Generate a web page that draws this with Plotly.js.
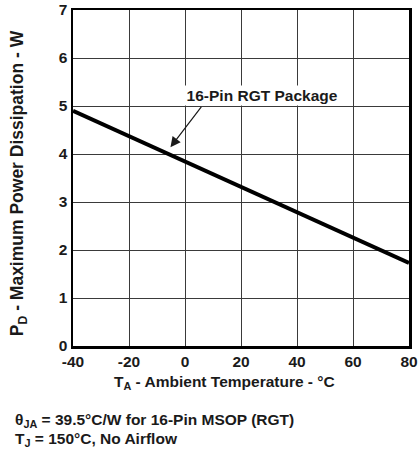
<!DOCTYPE html>
<html>
<head>
<meta charset="utf-8">
<script src="https://cdn.plot.ly/plotly-3.0.1.min.js"></script>
<style>html,body{margin:0;padding:0;background:#fff;}#chart{width:418px;height:450px;}</style>
</head>
<body>
<div id="chart"></div>
<script>
// Data
const ambientTemp = [-40, 80];          // °C
const powerDissipation = [4.9, 1.73];   // W
const xTickVals = [-40, -20, 0, 20, 40, 60, 80];
const yTickVals = [0, 1, 2, 3, 4, 5, 6, 7];
const seriesLabel = '16-Pin RGT Package';
const xTitle = 'T<sub>A</sub> - Ambient Temperature - °C';
const yTitle = 'P<sub>D</sub> - Maximum Power Dissipation - W';
const note1 = 'θ<sub>JA</sub> = 39.5°C/W for 16-Pin MSOP (RGT)';
const note2 = 'T<sub>J</sub> = 150°C, No Airflow';
const arrowPoint = {x: -5.2, y: 4.14};
const labelPoint = {x: 27.5, y: 5.22};

const FONT = 'Liberation Sans, Arial, Helvetica, sans-serif';
const TXT = '#1a1a1a';
const f = (s) => ({family: FONT, size: s, color: TXT, weight: 'bold'});

const trace = {
  x: ambientTemp, y: powerDissipation, mode: 'lines', type: 'scatter',
  line: {color: '#000', width: 4}, hoverinfo: 'skip', showlegend: false
};

const axisCommon = {
  showgrid: true, gridcolor: '#3a3a3a', gridwidth: 1,
  showline: true, linecolor: '#000', linewidth: 2.5, mirror: true,
  zeroline: false, ticks: '', ticklabeloverflow: 'allow',
  tickfont: f(15.5)
};

const layout = {
  width: 418, height: 450,
  margin: {l: 73, r: 9, t: 10, b: 104},
  paper_bgcolor: '#fff', plot_bgcolor: '#fff',
  font: {family: FONT, color: TXT},
  xaxis: Object.assign({range: [-40, 80], tickvals: xTickVals, ticktext: xTickVals.map(String)}, axisCommon),
  yaxis: Object.assign({range: [0, 7], tickvals: yTickVals, ticktext: yTickVals.map(String)}, axisCommon),
  annotations: [
    {xref: 'x', yref: 'y', x: arrowPoint.x, y: arrowPoint.y, ax: 32, ay: -42,
     text: '', showarrow: true, arrowhead: 2, arrowsize: 1.7, arrowwidth: 1.2, arrowcolor: TXT},
    {xref: 'x', yref: 'y', x: labelPoint.x, y: labelPoint.y, showarrow: false,
     text: '&nbsp;&nbsp;' + seriesLabel + '&nbsp;&nbsp;', bgcolor: '#fff', borderpad: 1,
     font: f(15.5)},
    {xref: 'paper', yref: 'paper', x: 0.45, y: -0.110, showarrow: false,
     xanchor: 'center', yanchor: 'middle', text: xTitle, font: f(15.5)},
    {xref: 'paper', yref: 'paper', x: -0.163, y: 0.485, showarrow: false, textangle: -90,
     xanchor: 'center', yanchor: 'middle', text: yTitle, font: f(17.5)},
    {xref: 'paper', yref: 'paper', x: -0.18, y: -0.223, showarrow: false,
     xanchor: 'left', yanchor: 'middle', text: note1, font: f(15.5)},
    {xref: 'paper', yref: 'paper', x: -0.18, y: -0.277, showarrow: false,
     xanchor: 'left', yanchor: 'middle', text: note2, font: f(15.5)}
  ]
};

Plotly.newPlot('chart', [trace], layout, {staticPlot: true, displayModeBar: false});
</script>
</body>
</html>
